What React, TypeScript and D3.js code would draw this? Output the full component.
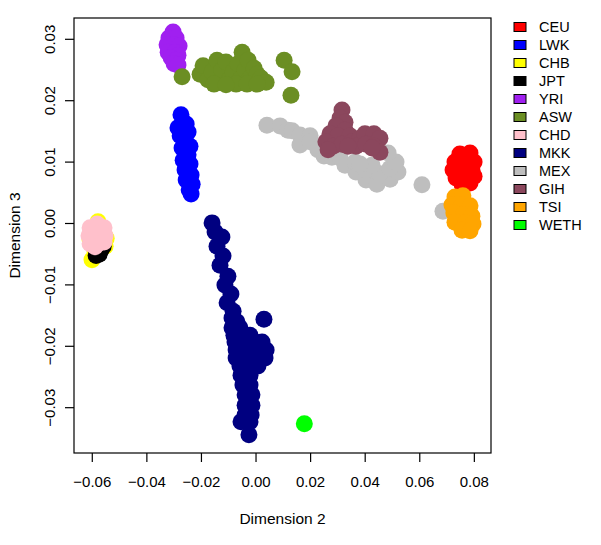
import React from "react";
import * as d3 from "d3";

const populations = ["CEU", "LWK", "CHB", "JPT", "YRI", "ASW", "CHD", "MKK", "MEX", "GIH", "TSI", "WETH"];
const popColors = ["#FF0000", "#0000FF", "#FFFF00", "#000000", "#A020F0", "#6B8E23", "#FFC0CB", "#000080", "#BEBEBE", "#8B475D", "#FFA500", "#00FF00"];

const xTicks = [-0.06, -0.04, -0.02, 0.0, 0.02, 0.04, 0.06, 0.08];
const yTicks = [-0.03, -0.02, -0.01, 0.0, 0.01, 0.02, 0.03];

const CEU: [number, number][] = [[0.0747,0.0113],[0.0784,0.0115],[0.0729,0.0100],[0.0766,0.0100],[0.0799,0.0100],[0.0722,0.0087],[0.0755,0.0087],[0.0791,0.0087],[0.0733,0.0074],[0.0769,0.0074],[0.0799,0.0077],[0.0755,0.0064],[0.0784,0.0066]];
const LWK: [number, number][] = [[-0.0275,0.0177],[-0.0256,0.0162],[-0.0286,0.0156],[-0.0249,0.0149],[-0.0278,0.0143],[-0.0260,0.0136],[-0.0242,0.0126],[-0.0271,0.0123],[-0.0249,0.0112],[-0.0267,0.0103],[-0.0242,0.0097],[-0.0260,0.0087],[-0.0238,0.0079],[-0.0256,0.0071],[-0.0234,0.0064],[-0.0245,0.0055],[-0.0238,0.0048]];
const CHB: [number, number][] = [[-0.0579,0.0003],[-0.0549,-0.0024],[-0.0601,-0.0059],[-0.0553,-0.0037],[-0.0608,-0.0027],[-0.0571,-0.0014],[-0.0590,-0.0045]];
const JPT: [number, number][] = [[-0.0560,-0.0037],[-0.0568,-0.0043],[-0.0575,-0.0050],[-0.0586,-0.0052]];
const YRI: [number, number][] = [[-0.0304,0.0312],[-0.0319,0.0302],[-0.0293,0.0302],[-0.0326,0.0291],[-0.0300,0.0291],[-0.0282,0.0289],[-0.0322,0.0279],[-0.0297,0.0279],[-0.0286,0.0274],[-0.0311,0.0270],[-0.0293,0.0266],[-0.0300,0.0260],[-0.0286,0.0258]];
const ASW: [number, number][] = [[-0.0271,0.0239],[-0.0205,0.0243],[-0.0194,0.0257],[-0.0176,0.0234],[-0.0161,0.0247],[-0.0143,0.0266],[-0.0136,0.0230],[-0.0125,0.0250],[-0.0110,0.0263],[-0.0099,0.0234],[-0.0084,0.0247],[-0.0066,0.0260],[-0.0051,0.0279],[-0.0059,0.0234],[-0.0040,0.0250],[-0.0029,0.0266],[-0.0022,0.0237],[-0.0007,0.0253],[0.0004,0.0243],[0.0018,0.0237],[0.0037,0.0230],[-0.0073,0.0227],[-0.0154,0.0227],[-0.0110,0.0226],[-0.0033,0.0227],[0.0004,0.0227],[0.0103,0.0266],[0.0132,0.0247],[0.0128,0.0209]];
const CHD: [number, number][] = [[-0.0582,-0.0001],[-0.0608,-0.0007],[-0.0557,-0.0007],[-0.0612,-0.0020],[-0.0582,-0.0017],[-0.0553,-0.0020],[-0.0608,-0.0033],[-0.0579,-0.0033],[-0.0557,-0.0030],[-0.0590,-0.0038]];
const MKK: [number, number][] = [[-0.0161,0.0001],[-0.0150,-0.0014],[-0.0125,-0.0022],[-0.0143,-0.0037],[-0.0121,-0.0053],[-0.0132,-0.0068],[-0.0103,-0.0086],[-0.0114,-0.0100],[-0.0092,-0.0115],[-0.0106,-0.0129],[-0.0084,-0.0143],[-0.0088,-0.0154],[-0.0070,-0.0160],[0.0029,-0.0156],[-0.0088,-0.0170],[-0.0059,-0.0170],[-0.0081,-0.0182],[-0.0051,-0.0182],[-0.0022,-0.0182],[-0.0077,-0.0193],[-0.0044,-0.0193],[-0.0004,-0.0193],[0.0022,-0.0193],[-0.0073,-0.0206],[-0.0037,-0.0206],[0.0000,-0.0206],[0.0037,-0.0206],[-0.0073,-0.0219],[-0.0037,-0.0219],[0.0000,-0.0219],[0.0033,-0.0219],[-0.0059,-0.0232],[-0.0022,-0.0232],[0.0007,-0.0232],[-0.0055,-0.0247],[-0.0022,-0.0247],[-0.0048,-0.0263],[-0.0022,-0.0263],[-0.0040,-0.0279],[-0.0015,-0.0279],[-0.0040,-0.0296],[-0.0015,-0.0296],[-0.0040,-0.0312],[-0.0018,-0.0312],[-0.0055,-0.0323],[-0.0022,-0.0323],[-0.0026,-0.0344]];
const MEX: [number, number][] = [[0.0040,0.0160],[0.0088,0.0159],[0.0117,0.0152],[0.0132,0.0151],[0.0161,0.0144],[0.0198,0.0143],[0.0161,0.0128],[0.0198,0.0133],[0.0227,0.0120],[0.0249,0.0110],[0.0278,0.0108],[0.0326,0.0095],[0.0366,0.0084],[0.0403,0.0071],[0.0443,0.0064],[0.0491,0.0072],[0.0520,0.0084],[0.0308,0.0107],[0.0363,0.0100],[0.0403,0.0087],[0.0454,0.0081],[0.0491,0.0090],[0.0513,0.0100],[0.0484,0.0115],[0.0425,0.0095],[0.0381,0.0097],[0.0608,0.0063],[0.0685,0.0020]];
const GIH: [number, number][] = [[0.0315,0.0185],[0.0308,0.0172],[0.0326,0.0165],[0.0293,0.0159],[0.0326,0.0152],[0.0271,0.0146],[0.0300,0.0143],[0.0344,0.0143],[0.0256,0.0133],[0.0282,0.0126],[0.0315,0.0129],[0.0352,0.0133],[0.0381,0.0139],[0.0399,0.0146],[0.0432,0.0146],[0.0454,0.0139],[0.0366,0.0126],[0.0403,0.0129],[0.0432,0.0126],[0.0454,0.0116],[0.0425,0.0123],[0.0264,0.0120],[0.0337,0.0126]];
const TSI: [number, number][] = [[0.0729,0.0043],[0.0758,0.0045],[0.0718,0.0030],[0.0755,0.0030],[0.0784,0.0029],[0.0725,0.0017],[0.0762,0.0015],[0.0791,0.0012],[0.0729,0.0002],[0.0766,0.0001],[0.0795,-0.0001],[0.0755,-0.0011],[0.0784,-0.0012]];
const WETH: [number, number][] = [[0.0177,-0.0326]];

const seriesData = [CEU, LWK, CHB, JPT, YRI, ASW, CHD, MKK, MEX, GIH, TSI, WETH];

const W = 601, H = 545;
const left = 74, right = 491, top = 18, bottom = 453;
const FONT = "'Liberation Sans', Arial, sans-serif";

export default function App() {
  const x = d3.scaleLinear().domain([-0.0667, 0.0861]).range([left, right]);
  const y = d3.scaleLinear().domain([-0.03738, 0.03347]).range([bottom, top]);
  const r = 8.5;
  const fmt = d3.format(".2f");

  return (
    <svg width={W} height={H} style={{ position: "absolute", left: 0, top: 0, background: "#fff" }} fontFamily={FONT}>
      <rect x={0} y={0} width={W} height={H} fill="#fff" />
      <defs>
        <clipPath id="plotclip">
          <rect x={left} y={top} width={right - left} height={bottom - top} />
        </clipPath>
      </defs>
      <g clipPath="url(#plotclip)">
        {seriesData.map((pts, si) => (
          <g key={populations[si]} fill={popColors[si]}>
            {pts.map((p, i) => (
              <circle key={i} cx={x(p[0])} cy={y(p[1])} r={r} />
            ))}
          </g>
        ))}
      </g>
      <rect x={left} y={top} width={right - left} height={bottom - top} fill="none" stroke="#000" strokeWidth={1.2} />
      {xTicks.map((t) => (
        <g key={"x" + t}>
          <line x1={x(t)} x2={x(t)} y1={bottom} y2={bottom + 9} stroke="#000" strokeWidth={1.2} />
          <text x={x(t)} y={487} textAnchor="middle" fontSize={15} fill="#000">{fmt(t)}</text>
        </g>
      ))}
      {yTicks.map((t) => (
        <g key={"y" + t}>
          <line x1={left - 9} x2={left} y1={y(t)} y2={y(t)} stroke="#000" strokeWidth={1.2} />
          <text transform={`translate(55,${y(t)}) rotate(-90)`} textAnchor="middle" fontSize={15} fill="#000">{fmt(t)}</text>
        </g>
      ))}
      <text x={(left + right) / 2} y={524} textAnchor="middle" fontSize={15.5} fill="#000">Dimension 2</text>
      <text transform={`translate(20,${(top + bottom) / 2}) rotate(-90)`} textAnchor="middle" fontSize={15.5} fill="#000">Dimension 3</text>
      {populations.map((name, i) => (
        <g key={name}>
          <rect x={514} y={27 + i * 18 - 4.5} width={12} height={9} fill={popColors[i]} stroke="#000" strokeWidth={1} />
          <text x={539} y={27 + i * 18 + 5.2} fontSize={14.5} fill="#000">{name}</text>
        </g>
      ))}
    </svg>
  );
}
